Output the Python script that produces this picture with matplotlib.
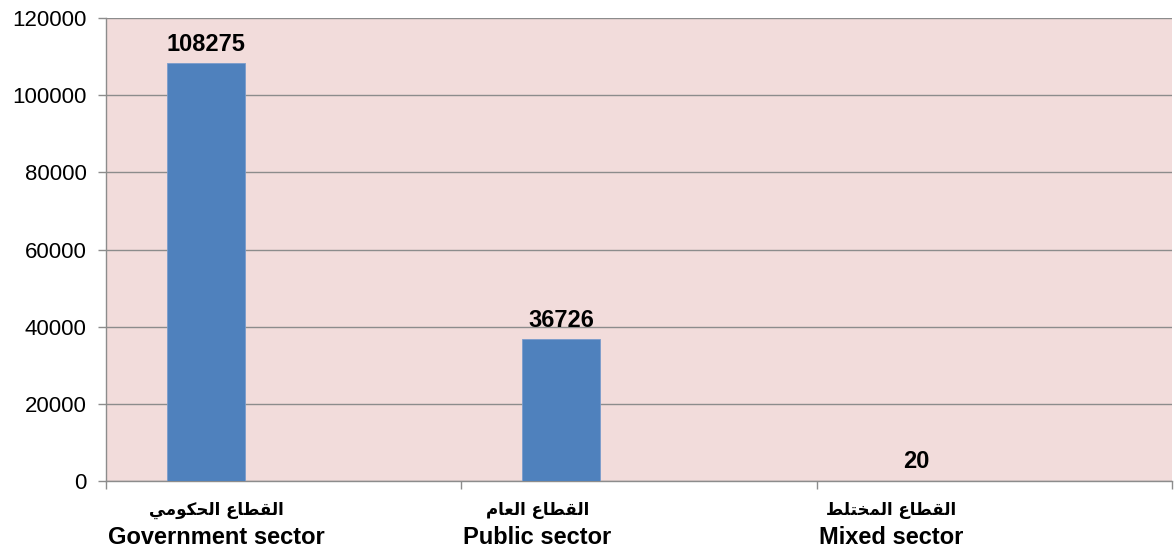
import matplotlib
matplotlib.use("Agg")
import matplotlib.pyplot as plt
import matplotlib.transforms as mtransforms
import numpy as np

# ---------------- data ----------------
categories_ar = ["القطاع الحكومي", "القطاع العام", "القطاع المختلط"]
categories_en = ["Government sector", "Public sector", "Mixed sector"]
values = [108275, 36726, 20]
yticks = [0, 20000, 40000, 60000, 80000, 100000, 120000]

# ------------- minimal Arabic shaping (visual order) -------------
FORMS = {  # iso, fin, ini, med
    'ا': ('\uFE8D', '\uFE8E', None, None),
    'ل': ('\uFEDD', '\uFEDE', '\uFEDF', '\uFEE0'),
    'ق': ('\uFED5', '\uFED6', '\uFED7', '\uFED8'),
    'ط': ('\uFEC1', '\uFEC2', '\uFEC3', '\uFEC4'),
    'ع': ('\uFEC9', '\uFECA', '\uFECB', '\uFECC'),
    'ح': ('\uFEA1', '\uFEA2', '\uFEA3', '\uFEA4'),
    'ك': ('\uFED9', '\uFEDA', '\uFEDB', '\uFEDC'),
    'و': ('\uFEED', '\uFEEE', None, None),
    'م': ('\uFEE1', '\uFEE2', '\uFEE3', '\uFEE4'),
    'ي': ('\uFEF1', '\uFEF2', '\uFEF3', '\uFEF4'),
    'خ': ('\uFEA5', '\uFEA6', '\uFEA7', '\uFEA8'),
    'ت': ('\uFE95', '\uFE96', '\uFE97', '\uFE98'),
}


def shape_word(w):
    out = []
    for i, c in enumerate(w):
        if c not in FORMS:
            out.append(c)
            continue
        prev = w[i - 1] if i > 0 else None
        nxt = w[i + 1] if i < len(w) - 1 else None
        join_prev = prev in FORMS and FORMS[prev][2] is not None
        join_next = nxt in FORMS and FORMS[c][2] is not None
        iso, fin, ini, med = FORMS[c]
        if join_prev and join_next:
            out.append(med)
        elif join_prev:
            out.append(fin)
        elif join_next:
            out.append(ini)
        else:
            out.append(iso)
    return ''.join(out)


def shape_ar(s):
    words = s.split(' ')
    return ' '.join(shape_word(w)[::-1] for w in words[::-1])


# ---------------- figure ----------------
fig = plt.figure(figsize=(11.76, 5.51), dpi=100)
ax = fig.add_axes([106 / 1176, 1 - 481 / 551, (1172 - 106) / 1176, (481 - 18) / 551])
ax.set_facecolor('#F2DCDB')

fam = ['Liberation Sans', 'DejaVu Sans']
x = np.arange(len(values))
bar_offset = -0.219
bar_w = 0.22
ax.bar(x + bar_offset, values, width=bar_w, color='#4F81BD',
       edgecolor='#7A9CCB', linewidth=0.6, zorder=3)

for xi, v in zip(x, values):
    ax.annotate(f"{v}", (xi + bar_offset, v), xytext=(0, 5.5), textcoords='offset points',
                ha='center', va='bottom', fontsize=17, fontweight='bold',
                family=fam, color='black', zorder=4)

ax.set_xlim(-0.5, len(values) - 0.5)
ax.set_ylim(0, 120000)
ax.set_yticks(yticks)
ax.set_yticklabels([str(t) for t in yticks], fontsize=16, family=fam)
ax.yaxis.grid(True, color='#8C8C8C', linewidth=1.0, zorder=1)
ax.set_axisbelow(True)

ax.set_xticks(np.arange(len(values) + 1) - 0.5)
ax.set_xticklabels([])
ax.tick_params(axis='x', length=6, color='#8C8C8C', width=1)
ax.tick_params(axis='y', length=6, color='#8C8C8C', width=1, pad=8)

for s in ['top', 'right']:
    ax.spines[s].set_visible(False)
for s in ['left', 'bottom']:
    ax.spines[s].set_color('#8C8C8C')
    ax.spines[s].set_linewidth(1.0)

# category labels: English line left-aligned at the category boundary,
# Arabic line centred above it
ax_h_px = 481 - 18
trans = ax.get_xaxis_transform()
en_texts = []
for xi, en in zip(x, categories_en):
    t = ax.text(xi - 0.5, (481 - 537) / ax_h_px, en, transform=trans,
                ha='left', va='center', fontsize=17, fontweight='bold',
                family=fam, clip_on=False)
    t.set_transform(trans + mtransforms.ScaledTranslation(2 / 100, 0, fig.dpi_scale_trans))
    en_texts.append(t)

fig.canvas.draw()
renderer = fig.canvas.get_renderer()
for t, ar in zip(en_texts, categories_ar):
    bb = t.get_window_extent(renderer)
    cx_px = (bb.x0 + bb.x1) / 2
    cx_data = ax.transData.inverted().transform((cx_px, 0))[0]
    ax.text(cx_data, (481 - 510) / ax_h_px, shape_ar(ar), transform=trans,
            ha='center', va='center', fontsize=12, fontweight='bold',
            family=['DejaVu Sans'], clip_on=False)

fig.savefig('out.png', dpi=100)
